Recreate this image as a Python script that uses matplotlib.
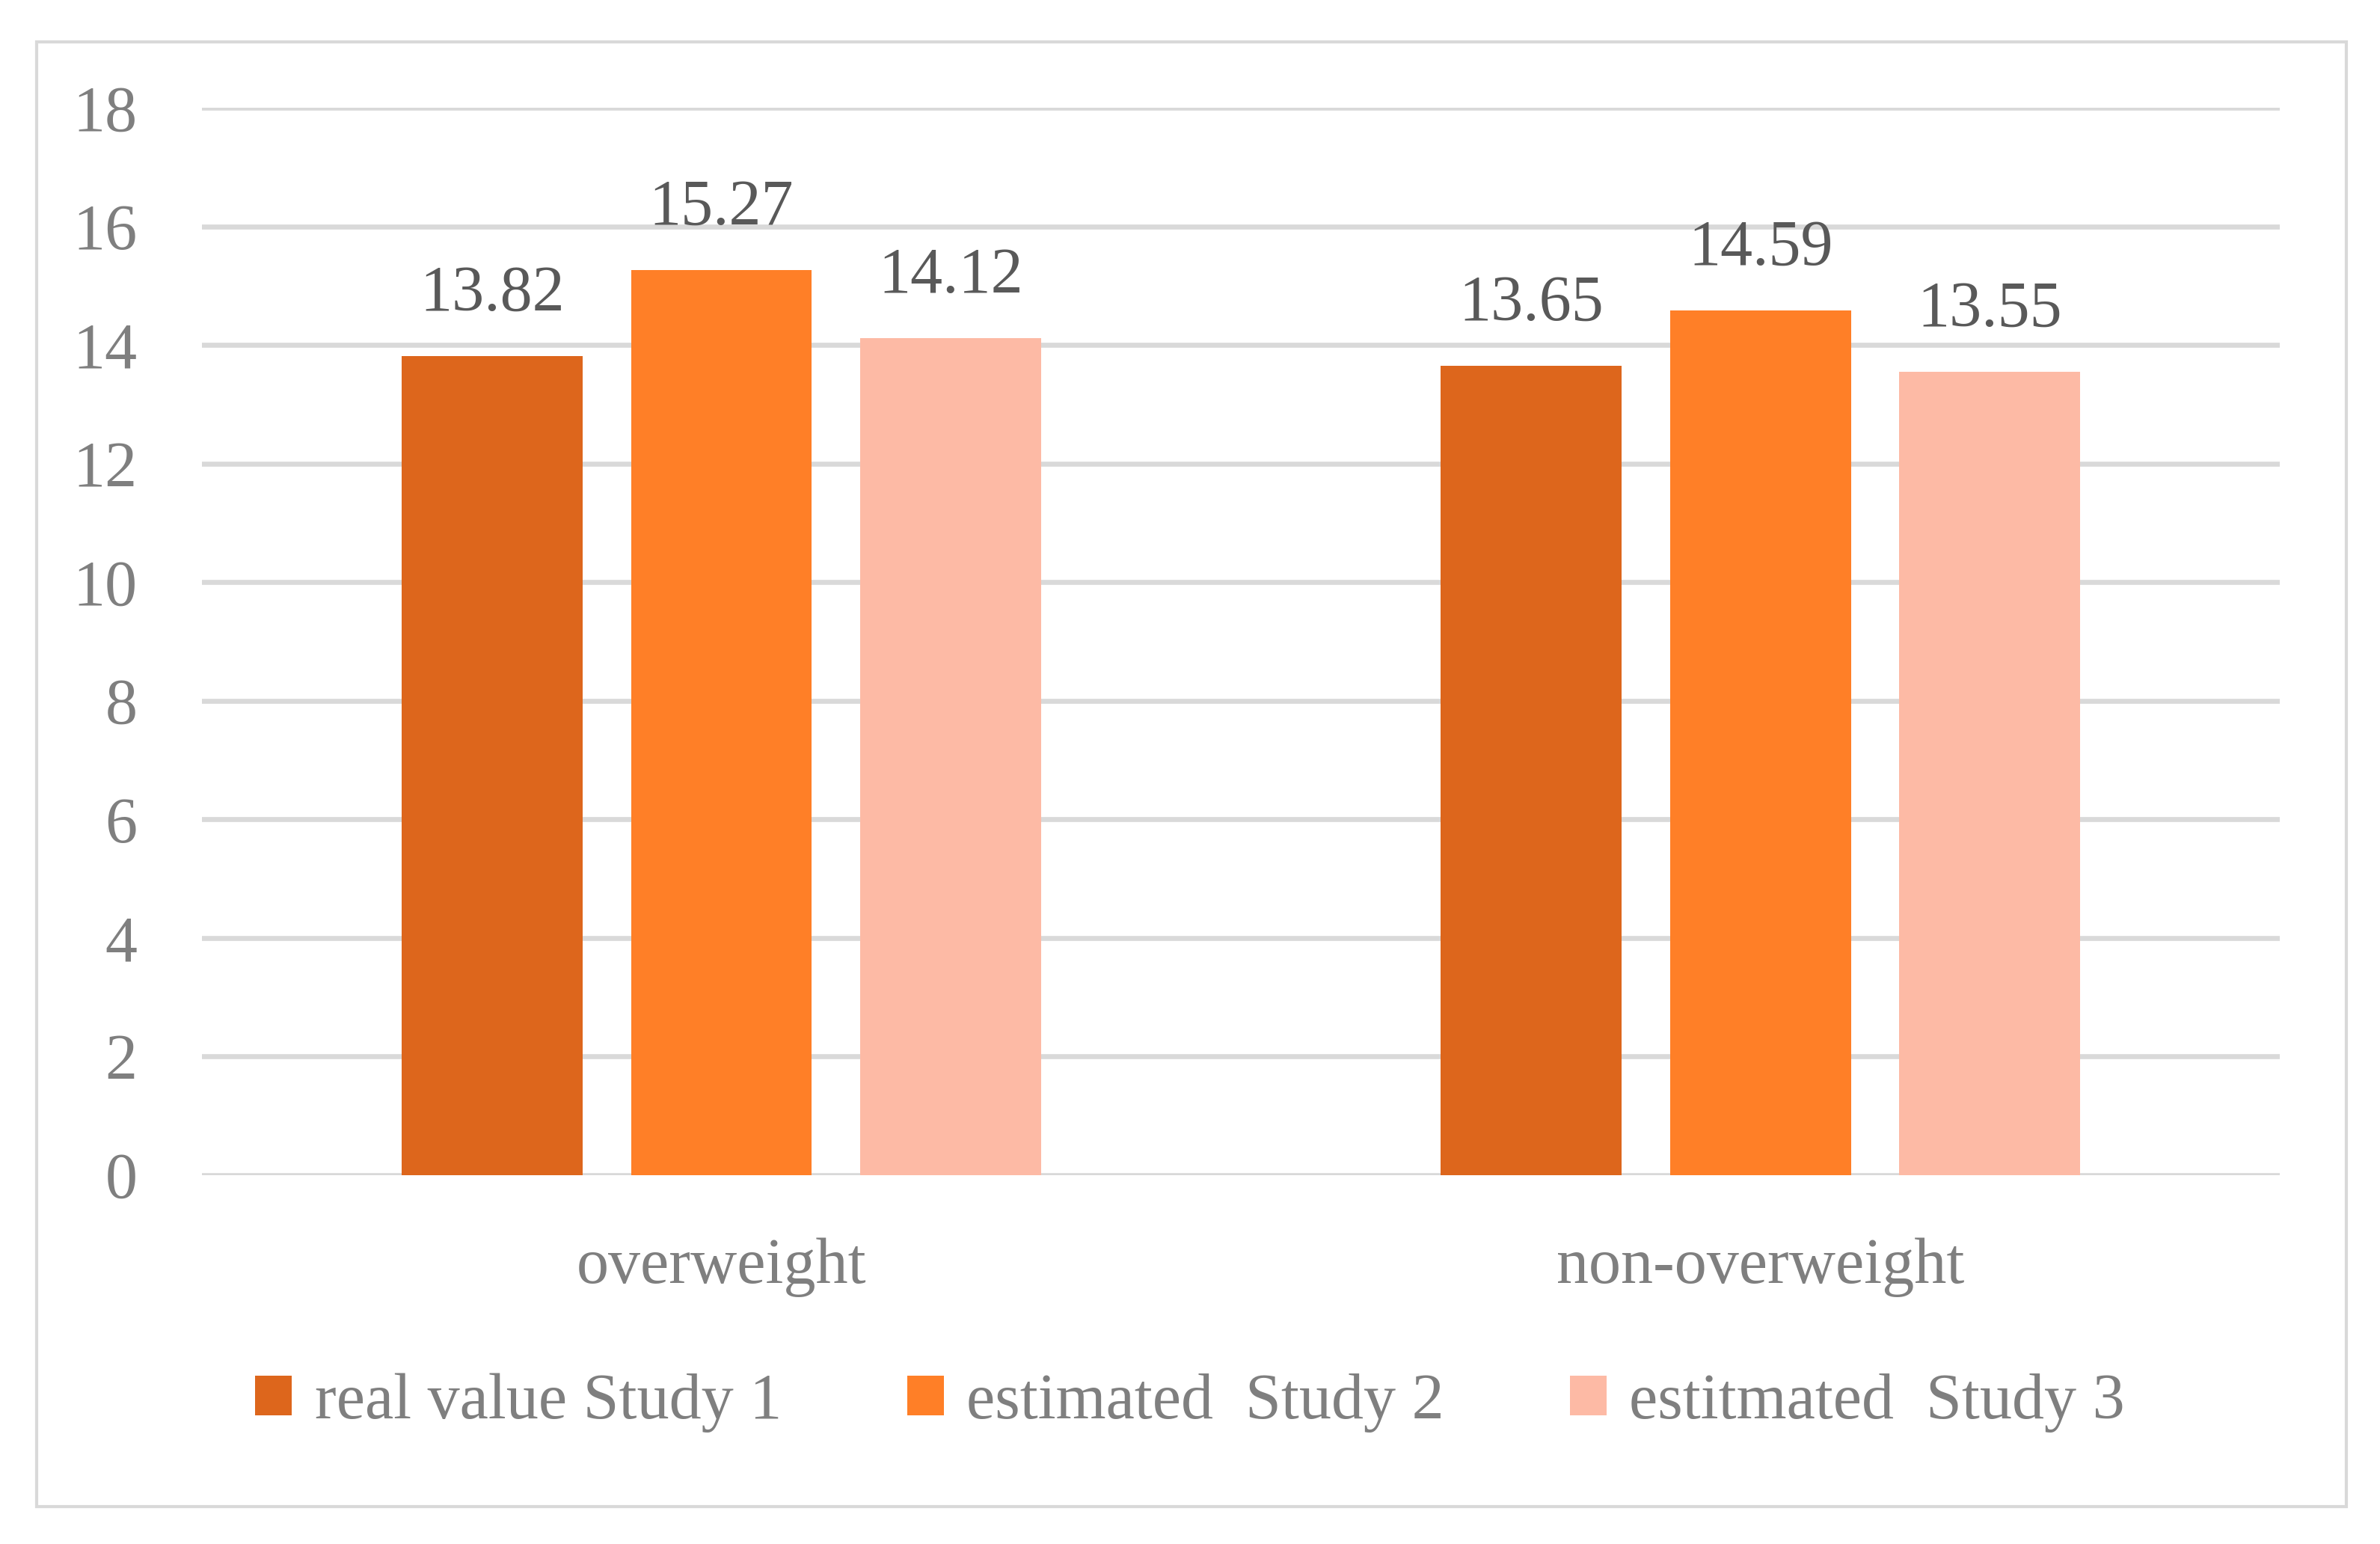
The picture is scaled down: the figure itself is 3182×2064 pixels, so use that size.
import numpy as np
import matplotlib
matplotlib.use("Agg")
import matplotlib.pyplot as plt
from matplotlib.patches import Rectangle

categories = ["overweight", "non-overweight"]
series_names = ["real value Study 1", "estimated  Study 2", "estitmated  Study 3"]
study1 = [13.82, 13.65]
study2 = [15.27, 14.59]
study3 = [14.12, 13.55]
yticks = [0, 2, 4, 6, 8, 10, 12, 14, 16, 18]

colors = ["#DD661C", "#FF7F27", "#FDBAA5"]

plt.rcParams['font.family'] = ['Liberation Serif', 'DejaVu Serif']

fig = plt.figure(figsize=(15.91, 10.32), dpi=200)
ax = fig.add_axes([0.0848, 0.239, 0.958 - 0.0848, 0.930 - 0.239])

x = np.arange(len(categories))
width = 0.174
step = 0.2206
for i, (vals, name) in enumerate(zip([study1, study2, study3], series_names)):
    pos = x + (i - 1) * step
    ax.bar(pos, vals, width=width, color=colors[i], label=name, zorder=3)
    for px, v in zip(pos, vals):
        ax.annotate(f"{v:.2f}", (px, v), xytext=(0, 22), textcoords="offset points",
                    ha="center", va="baseline", fontsize=31, color="#595959")

ax.set_xlim(-0.5, 1.5)
ax.set_ylim(0, 18)
ax.set_yticks(yticks)
ax.set_xticks(x)
ax.set_xticklabels(categories)
ax.grid(axis="y", color="#D9D9D9", linewidth=2.4, zorder=0)
ax.set_axisbelow(True)
for s in ax.spines.values():
    s.set_visible(False)
ax.tick_params(axis="both", length=0, labelsize=31, labelcolor="#7F7F7F")
ax.tick_params(axis="y", pad=31)
ax.tick_params(axis="x", pad=30)

fig.legend(loc="center", bbox_to_anchor=(0.5, 0.0915), ncol=3, frameon=False,
           fontsize=31, labelcolor="#7F7F7F", handlelength=0.57, handleheight=0.57,
           handletextpad=0.35, columnspacing=1.95)

fig.patches.append(Rectangle((0.0155, 0.024), 0.9705, 0.949, transform=fig.transFigure,
                             fill=False, edgecolor="#D9D9D9", linewidth=1.5))

fig.savefig("out.png", dpi=200)
